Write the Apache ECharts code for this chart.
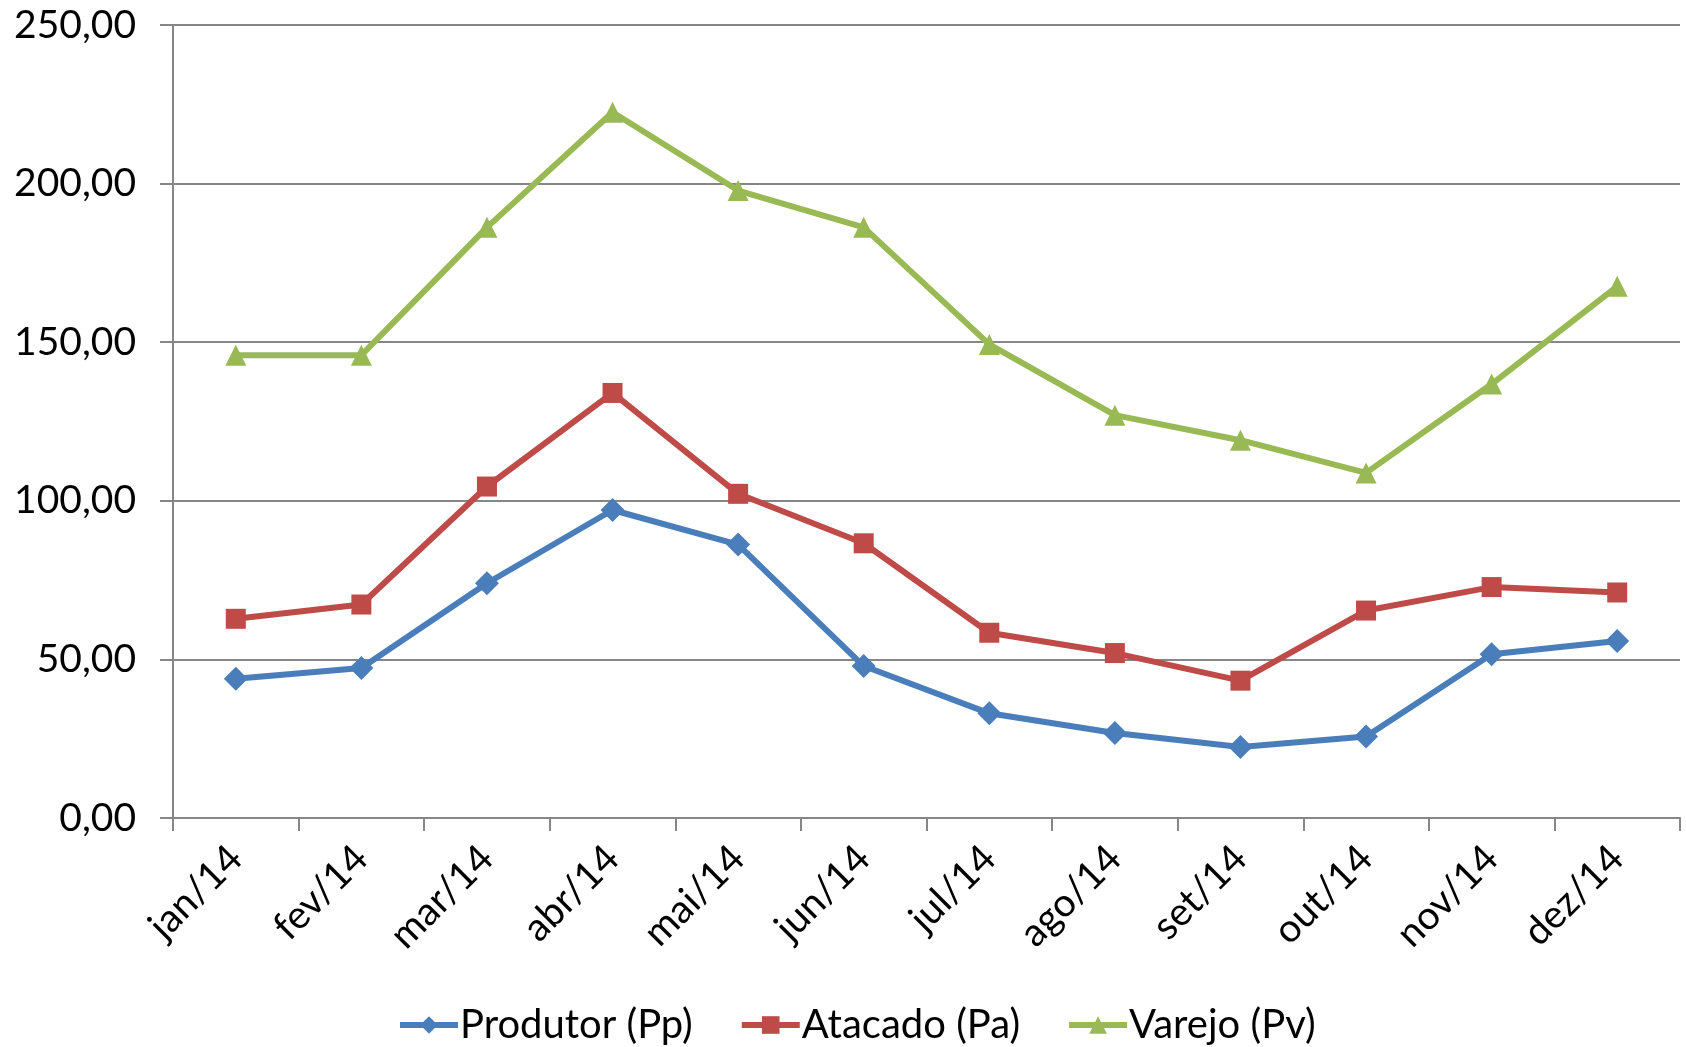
<!DOCTYPE html>
<html>
<head>
<meta charset="utf-8">
<script src="https://cdn.jsdelivr.net/npm/echarts@6/dist/echarts.min.js"></script>
<style>
  html, body { margin: 0; padding: 0; background: #fff; }
  #chart { width: 1686px; height: 1047px; }
</style>
</head>
<body>
<div id="chart"></div>
<script>
var MESES = ['jan/14', 'fev/14', 'mar/14', 'abr/14', 'mai/14', 'jun/14',
             'jul/14', 'ago/14', 'set/14', 'out/14', 'nov/14', 'dez/14'];

var PRODUTOR = [43.9, 47.3, 74.0, 97.1, 86.2, 47.9, 33.0, 26.8, 22.4, 25.7, 51.6, 55.8];
var ATACADO  = [62.8, 67.3, 104.5, 134.0, 102.2, 86.6, 58.4, 52.0, 43.3, 65.4, 72.8, 71.1];
var VAREJO   = [145.9, 145.9, 186.2, 222.5, 197.8, 186.2, 149.3, 127.0, 119.1, 108.8, 136.8, 167.6];

var NOMES = ['Produtor (Pp)', 'Atacado (Pa)', 'Varejo (Pv)'];
var CORES = ['#4A7EBB', '#BE4B48', '#98B954'];

var FONTE = 'Lato, "Liberation Sans", sans-serif';

function fmt(v) {
    return v.toFixed(2).replace('.', ',');
}

function serie(nome, dados, cor, simbolo, tam) {
    return {
        name: nome,
        type: 'line',
        data: dados,
        symbol: simbolo,
        symbolSize: tam,
        showAllSymbol: true,
        lineStyle: { color: cor, width: 6 },
        itemStyle: { color: cor },
        emphasis: { disabled: true }
    };
}

var chart = echarts.init(document.getElementById('chart'));
chart.setOption({
    animation: false,
    textStyle: { fontFamily: FONTE },
    grid: { left: 173, right: 6, top: 25, bottom: 229, containLabel: false },
    legend: {
        top: 1000,
        left: 392,
        itemGap: 46,
        itemWidth: 58,
        itemHeight: 22,
        lineStyle: { width: 6 },
        textStyle: { fontSize: 40, color: '#000', fontFamily: FONTE, padding: [0, 0, 0, -3] },
        data: NOMES
    },
    xAxis: {
        type: 'category',
        data: MESES,
        boundaryGap: true,
        axisLine: { lineStyle: { color: '#868686', width: 2 } },
        axisTick: { show: true, length: 13, lineStyle: { color: '#868686', width: 2 } },
        axisLabel: { rotate: 45, fontSize: 39, color: '#000', margin: 34, interval: 0 },
        splitLine: { show: false }
    },
    yAxis: {
        type: 'value',
        min: 0,
        max: 250,
        interval: 50,
        axisLine: { show: true, lineStyle: { color: '#868686', width: 2 } },
        axisTick: { show: true, length: 13, lineStyle: { color: '#868686', width: 2 } },
        axisLabel: { fontSize: 39, color: '#000', margin: 37, formatter: fmt },
        splitLine: { show: true, lineStyle: { color: '#868686', width: 2 } }
    },
    series: [
        serie(NOMES[0], PRODUTOR, CORES[0], 'diamond', 24),
        serie(NOMES[1], ATACADO, CORES[1], 'rect', 20),
        serie(NOMES[2], VAREJO, CORES[2], 'triangle', 21)
    ]
});
</script>
</body>
</html>
